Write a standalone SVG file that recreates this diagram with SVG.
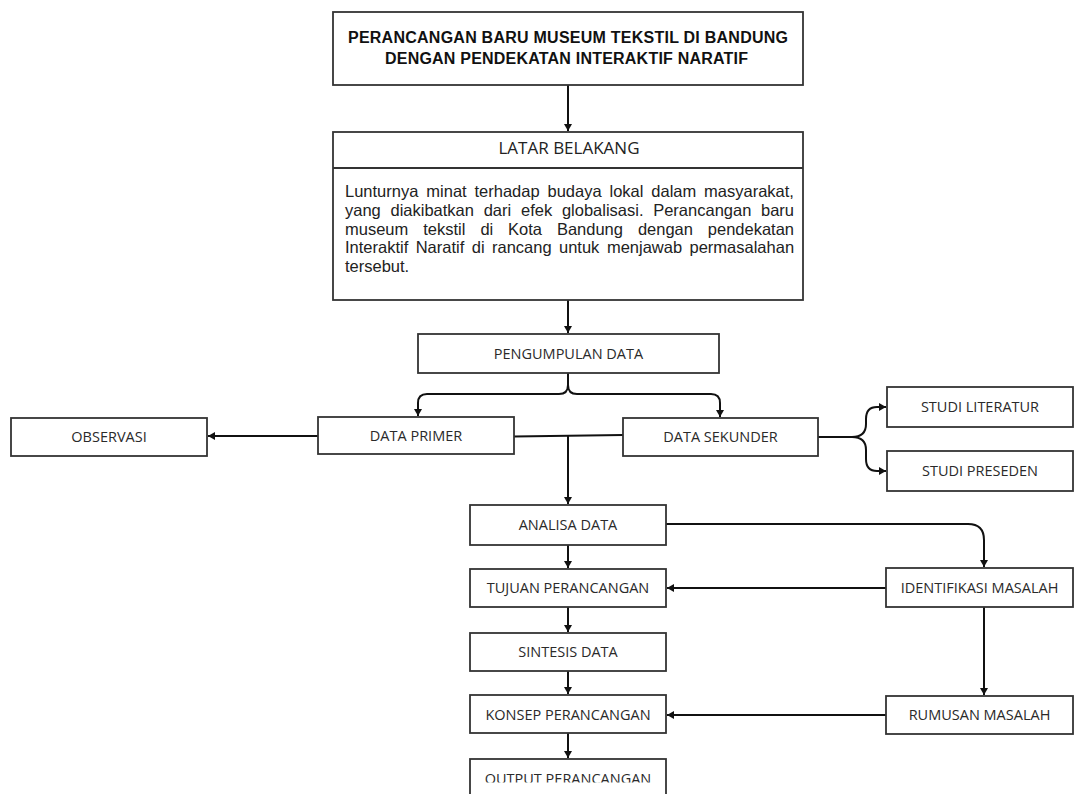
<svg xmlns="http://www.w3.org/2000/svg" width="1075" height="794" viewBox="0 0 1075 794">
<style>
.box{fill:#fff;stroke:#333;stroke-width:1.8}
.lbl{font-family:"Open Sans","Liberation Sans",sans-serif;font-size:14.5px;fill:#2a2a2a;text-anchor:middle}
.title{font-family:"Liberation Sans",Arial,sans-serif;font-size:16px;font-weight:bold;fill:#111;text-anchor:middle}
.para{font-family:"Liberation Sans",Arial,sans-serif;font-size:16.5px;fill:#222}
.head{font-family:"Open Sans","Liberation Sans",sans-serif;font-size:17px;fill:#222;text-anchor:middle}
.con{fill:none;stroke:#111;stroke-width:2}
</style>
<defs>
<marker id="ah" markerUnits="userSpaceOnUse" markerWidth="10" markerHeight="10" refX="7" refY="4" orient="auto">
<path d="M0,0 L7,4 L0,8 z" fill="#111"/>
</marker>
<clipPath id="cut"><rect x="0" y="0" width="1075" height="782.5"/></clipPath>
</defs>
<rect width="1075" height="794" fill="#fff"/>

<g id="connectors">
<path class="con" d="M568,85 V131" marker-end="url(#ah)"/>
<path class="con" d="M568,300 V333" marker-end="url(#ah)"/>
<path class="con" d="M568,373 V385 Q568,394 559,394 H427 Q418,394 418,403 V416" marker-end="url(#ah)"/>
<path class="con" d="M568,385 Q568,394 577,394 H711 Q720,394 720,403 V417" marker-end="url(#ah)"/>
<path class="con" d="M318,436 H208" marker-end="url(#ah)"/>
<path class="con" d="M514,436.5 L623,435"/>
<path class="con" d="M568,436 V504" marker-end="url(#ah)"/>
<path class="con" d="M818,437 H852 Q866,437 866,424 V419 Q866,407 877,407 H886" marker-end="url(#ah)"/>
<path class="con" d="M852,437 Q866,437 866,450 V459 Q866,471 877,471 H886" marker-end="url(#ah)"/>
<path class="con" d="M568,545 V568" marker-end="url(#ah)"/>
<path class="con" d="M568,607 V632" marker-end="url(#ah)"/>
<path class="con" d="M568,671 V694" marker-end="url(#ah)"/>
<path class="con" d="M568,733 V758" marker-end="url(#ah)"/>
<path class="con" d="M666,524 H968 Q984,524 984,540 V567" marker-end="url(#ah)"/>
<path class="con" d="M886,588 H667" marker-end="url(#ah)"/>
<path class="con" d="M984,607 V695" marker-end="url(#ah)"/>
<path class="con" d="M886,715 H667" marker-end="url(#ah)"/>
</g>

<g id="judul">
<rect class="box" x="333" y="12" width="470" height="73"/>
<text class="title" x="568" y="43" textLength="440" lengthAdjust="spacing">PERANCANGAN BARU MUSEUM TEKSTIL DI BANDUNG</text>
<text class="title" x="566.5" y="63.5" textLength="363" lengthAdjust="spacing">DENGAN PENDEKATAN INTERAKTIF NARATIF</text>
</g>

<g id="latar-belakang">
<rect class="box" x="333" y="132" width="470" height="168"/>
<line x1="333" y1="168" x2="803" y2="168" stroke="#333" stroke-width="1.8"/>
<text class="head" x="569" y="154">LATAR BELAKANG</text>
<text class="para" y="197"><tspan x="345">Lunturnya</tspan><tspan x="426.3">minat</tspan><tspan x="474.5">terhadap</tspan><tspan x="547.5">budaya</tspan><tspan x="609.5">lokal</tspan><tspan x="651.3">dalam</tspan><tspan x="704.1">masyarakat,</tspan></text>
<text class="para" y="215.75"><tspan x="345">yang</tspan><tspan x="390.5">diakibatkan</tspan><tspan x="483.7">dari</tspan><tspan x="521">efek</tspan><tspan x="561.9">globalisasi.</tspan><tspan x="653.2">Perancangan</tspan><tspan x="761">baru</tspan></text>
<text class="para" y="234.5"><tspan x="345">museum</tspan><tspan x="423.2">tekstil</tspan><tspan x="480.4">di</tspan><tspan x="508.1">Kota</tspan><tspan x="556.9">Bandung</tspan><tspan x="637.9">dengan</tspan><tspan x="707.8">pendekatan</tspan></text>
<text class="para" y="253.25"><tspan x="345">Interaktif</tspan><tspan x="415.7">Naratif</tspan><tspan x="471.8">di</tspan><tspan x="492">rancang</tspan><tspan x="559">untuk</tspan><tspan x="606.9">menjawab</tspan><tspan x="689.5">permasalahan</tspan></text>
<text class="para" x="345" y="272">tersebut.</text>
</g>

<g id="pengumpulan-data">
<rect class="box" x="418" y="334" width="301" height="39"/>
<text class="lbl" x="568.5" y="358.5">PENGUMPULAN DATA</text>
</g>

<g id="observasi">
<rect class="box" x="11" y="418" width="196" height="38"/>
<text class="lbl" x="109" y="442">OBSERVASI</text>
</g>

<g id="data-primer">
<rect class="box" x="318" y="417" width="196" height="37"/>
<text class="lbl" x="416" y="440.5">DATA PRIMER</text>
</g>

<g id="data-sekunder">
<rect class="box" x="623" y="418" width="195" height="38"/>
<text class="lbl" x="720.5" y="442">DATA SEKUNDER</text>
</g>

<g id="studi-literatur">
<rect class="box" x="887" y="387" width="186" height="40"/>
<text class="lbl" x="980" y="412">STUDI LITERATUR</text>
</g>

<g id="studi-preseden">
<rect class="box" x="887" y="451" width="186" height="40"/>
<text class="lbl" x="980" y="476">STUDI PRESEDEN</text>
</g>

<g id="analisa-data">
<rect class="box" x="470" y="505" width="196" height="40"/>
<text class="lbl" x="568" y="530">ANALISA DATA</text>
</g>

<g id="tujuan-perancangan">
<rect class="box" x="470" y="569" width="196" height="38"/>
<text class="lbl" x="568" y="593">TUJUAN PERANCANGAN</text>
</g>

<g id="sintesis-data">
<rect class="box" x="470" y="633" width="196" height="38"/>
<text class="lbl" x="568" y="657">SINTESIS DATA</text>
</g>

<g id="konsep-perancangan">
<rect class="box" x="470" y="695" width="196" height="38"/>
<text class="lbl" x="568" y="719.5">KONSEP PERANCANGAN</text>
</g>

<g id="output-perancangan">
<rect class="box" x="470" y="759" width="196" height="50"/>
<text class="lbl" x="568" y="784" clip-path="url(#cut)">OUTPUT PERANCANGAN</text>
</g>

<g id="identifikasi-masalah">
<rect class="box" x="886" y="568" width="187" height="39"/>
<text class="lbl" x="979.5" y="592.5">IDENTIFIKASI MASALAH</text>
</g>

<g id="rumusan-masalah">
<rect class="box" x="886" y="696" width="187" height="38"/>
<text class="lbl" x="979.5" y="720">RUMUSAN MASALAH</text>
</g>
</svg>
